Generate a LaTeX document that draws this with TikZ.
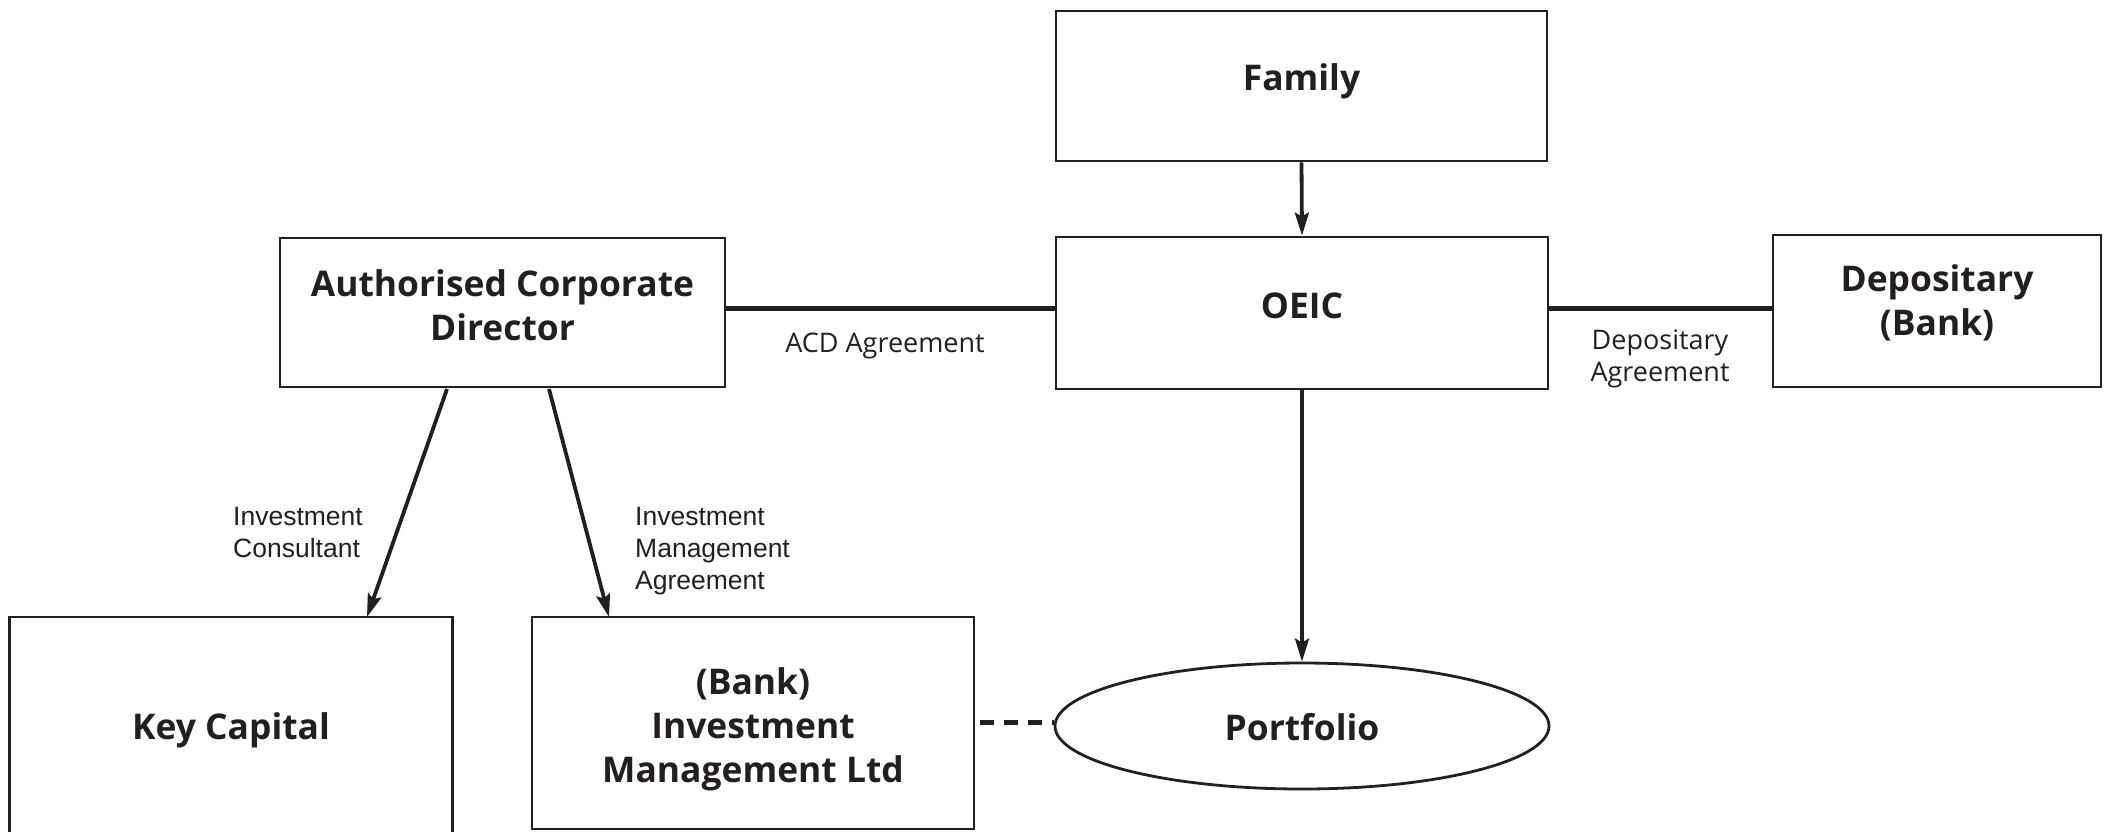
\documentclass[tikz,border=0pt]{standalone}
\usepackage{fontspec}
\setmainfont{Liberation Sans}
\newfontfamily\boxfont{Open Sans}
\usetikzlibrary{arrows.meta,shapes.geometric}
\definecolor{ink}{HTML}{231F20}
\tikzset{
  entity/.style={draw=ink, line width=2.8pt, rectangle, inner sep=0pt},
  etext/.style={inner sep=0pt, align=center,
    font=\boxfont\fontsize{35.4}{44}\selectfont\bfseries, text=ink},
  lbl/.style={font=\fontsize{26.5}{32}\selectfont, text=ink, align=left, inner sep=0pt},
  agr/.style={font=\boxfont\fontsize{27}{32}\selectfont, text=ink, align=center, inner sep=0pt},
  link/.style={draw=ink, line width=5pt},
  arr/.style={draw=ink, line width=3.8pt, -{Stealth[length=23pt,width=14pt,inset=4pt]}},
}
\begin{document}
\begin{tikzpicture}[x=1pt,y=-1pt]
\useasboundingbox (0,0) rectangle (2109,831);
\node[entity, minimum width=491pt, minimum height=150pt] (family) at (1301.5,86) {};
\node[etext] (familytxt) at (1301.5,81) {Family};
\node[entity, minimum width=492pt, minimum height=152pt] (oeic) at (1302,313) {};
\node[etext] (oeictxt) at (1302,305.5) {OEIC};
\node[entity, minimum width=445pt, minimum height=149pt] (acd) at (502.5,312.5) {};
\node[etext] (acdtxt) at (502.5,305.5) {Authorised Corporate\\Director};
\node[entity, minimum width=328pt, minimum height=152pt] (dep) at (1937,311) {};
\node[etext] (deptxt) at (1937,303) {Depositary\\(Bank)};
\node[entity, minimum width=443pt, minimum height=224pt] (key) at (231,729) {};
\node[etext] (keytxt) at (231,730) {Key Capital};
\node[entity, minimum width=442pt, minimum height=212pt] (bim) at (753,723) {};
\node[etext] (bimtxt) at (753,729.5) {(Bank)\\Investment\\Management Ltd};
\node[draw=ink, line width=2.8pt, ellipse, minimum width=494pt, minimum height=126pt, inner sep=0pt] (port) at (1302,726) {};
\node[etext] (porttxt) at (1302,727) {Portfolio};

\coordinate (acdbl) at (447,389);
\coordinate (acdbr) at (549,389);
\coordinate (keytop) at (367,617);
\coordinate (bimtop) at (609,617);

\draw[link] (acd.east |- 0,308) -- (oeic.west |- 0,308);
\draw[link] (oeic.east |- 0,308) -- (dep.west |- 0,308);
\draw[arr] (family.south) -- (oeic.north);
\draw[arr] (oeic.south) -- (port.north);
\draw[arr] (acdbl) -- (keytop);
\draw[arr] (acdbr) -- (bimtop);
\draw[draw=ink, line width=5pt, dash pattern=on 14pt off 10pt] (bim.east |- 0,722) ++(5,0) -- (port.west |- 0,722);

\node[agr] (acdlbl) at (885,346) {ACD Agreement};
\node[agr] (deplbl) at (1660,359) {Depositary\\Agreement};
\node[lbl, anchor=north west] (iclbl) at (233,507) {Investment\\Consultant};
\node[lbl, anchor=north west] (imlbl) at (635,507) {Investment\\Management\\Agreement};
\end{tikzpicture}
\end{document}
